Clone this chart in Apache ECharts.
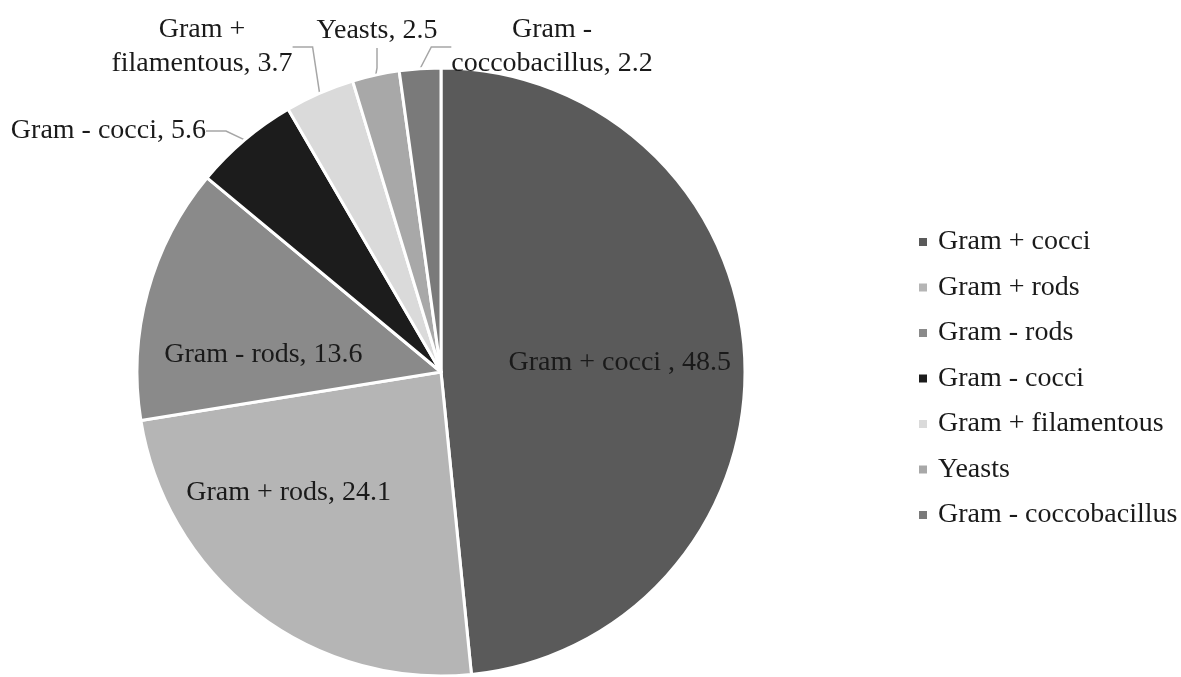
<!DOCTYPE html>
<html>
<head>
<meta charset="utf-8">
<script src="https://cdn.jsdelivr.net/npm/echarts@6/dist/echarts.min.js"></script>
<style>
  html, body { margin: 0; padding: 0; background: #ffffff; }
  #chart { width: 1181px; height: 677px; }
</style>
</head>
<body>
<div id="chart"></div>
<script>
// ---- data ----
const categories = ['Gram + cocci', 'Gram + rods', 'Gram - rods', 'Gram - cocci', 'Gram + filamentous', 'Yeasts', 'Gram - coccobacillus'];
const values = [48.5, 24.1, 13.6, 5.6, 3.7, 2.5, 2.2];
const labelNames = ['Gram + cocci ', 'Gram + rods', 'Gram - rods', 'Gram - cocci', 'Gram +\nfilamentous', 'Yeasts', 'Gram -\ncoccobacillus'];

// ---- style ----
const colors = ['#5a5a5a', '#b5b5b5', '#8a8a8a', '#1c1c1c', '#dadada', '#a8a8a8', '#7a7a7a'];
const insideSet = [true, true, true, false, false, false, false];
const FONT = 'Liberation Serif';

// label placement tweaks (style only)
const labelPlace = [
  { dx: 24, dy: -2 },
  { dx: -58, dy: -2 },
  { dx: -28, dy: 23 },
  { x: 206, y: 131, align: 'right', verticalAlign: 'middle' },
  { x: 202, y: 47, align: 'center', verticalAlign: 'middle' },
  { x: 377, y: 31, align: 'center', verticalAlign: 'middle' },
  { x: 552, y: 47, align: 'center', verticalAlign: 'middle' }
];

const chart = echarts.init(document.getElementById('chart'), null, { renderer: 'canvas' });

const data = categories.map((c, i) => ({
  name: c,
  value: values[i],
  itemStyle: { color: colors[i] },
  label: {
    position: insideSet[i] ? 'inside' : 'outside',
    formatter: labelNames[i] + ', ' + values[i].toFixed(1)
  }
}));

chart.setOption({
  backgroundColor: '#ffffff',
  animation: false,
  legend: {
    orient: 'vertical',
    left: 912,
    top: 222,
    itemWidth: 10,
    itemHeight: 10,
    itemGap: 15.5,
    icon: 'rect',
    textStyle: { fontFamily: FONT, fontSize: 28, color: '#1a1a1a', lineHeight: 30, padding: [0, 0, 0, 5] },
    data: categories
  },
  series: [{
    type: 'pie',
    center: [441, 372],
    radius: [0, 304],
    startAngle: 90,
    clockwise: true,
    avoidLabelOverlap: false,
    itemStyle: { borderColor: '#ffffff', borderWidth: 3 },
    label: {
      fontFamily: FONT,
      fontSize: 28,
      color: '#1a1a1a',
      lineHeight: 34,
      align: 'center'
    },
    labelLine: {
      show: true,
      length: 12,
      length2: 20,
      lineStyle: { color: '#a6a6a6', width: 1.5 }
    },
    labelLayout: function (params) {
      return labelPlace[params.dataIndex];
    },
    emphasis: { disabled: true },
    data: data
  }]
});
</script>
</body>
</html>
